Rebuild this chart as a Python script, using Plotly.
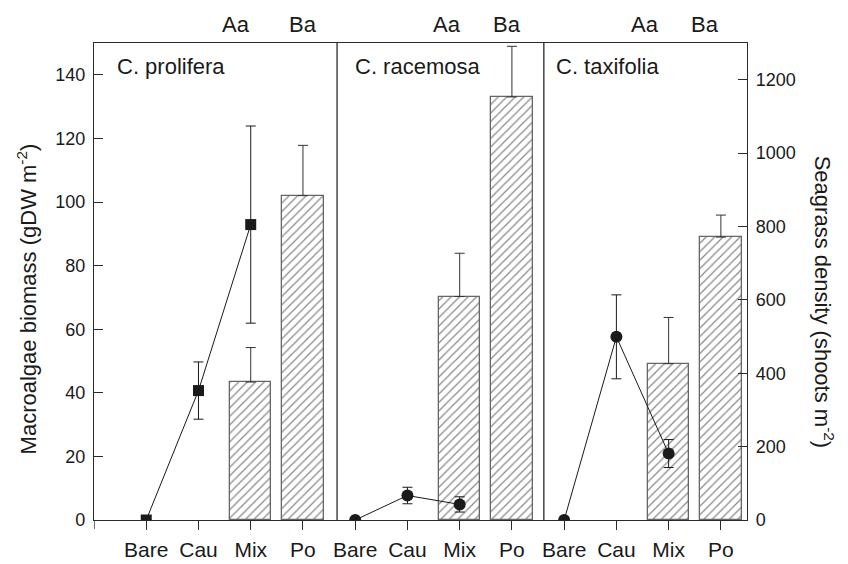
import plotly.graph_objects as go

# ---- data ----
categories = ["Bare", "Cau", "Mix", "Po"]
panels = ["C. prolifera", "C. racemosa", "C. taxifolia"]
panel_symbols = ["square", "circle", "circle"]

# Macroalgae biomass (gDW m-2) at Bare, Cau, Mix
biomass = [
    [0, 40.7, 92.9],
    [0, 7.7, 4.9],
    [0, 57.6, 20.9],
]
biomass_err = [
    [0, 9.0, 31.0],
    [0, 2.6, 2.4],
    [0, 13.2, 4.4],
]

# Seagrass density (shoots m-2) at Mix and Po
density_mix = [376, 609, 426]
density_mix_err = [94, 118, 126]
density_po = [884, 1153, 771]
density_po_err = [137, 138, 60]

letters_mix = ["Aa", "Aa", "Aa"]
letters_po = ["Ba", "Ba", "Ba"]

left_ticks = [0, 20, 40, 60, 80, 100, 120, 140]
right_ticks = [0, 200, 400, 600, 800, 1000, 1200]

# ---- styling ----
FONT = "Liberation Sans, Arial, Helvetica, sans-serif"
INK = "#1a1a1a"
FRAME = "#2a2a2a"
n_cat = len(categories)

fig = go.Figure()

# bars (seagrass density) on base axis y (right side)
bar_x, bar_y, bar_e = [], [], []
for p in range(len(panels)):
    bar_x += [p * n_cat + 2, p * n_cat + 3]
    bar_y += [density_mix[p], density_po[p]]
    bar_e += [density_mix_err[p], density_po_err[p]]

fig.add_trace(go.Bar(
    x=bar_x, y=bar_y, width=0.79,
    marker=dict(color="white", line=dict(color="#666", width=1.3),
                pattern=dict(shape="/", fgcolor="#111", bgcolor="white",
                             size=6, solidity=0.2)),
    error_y=dict(type="data", symmetric=False, array=bar_e,
                 arrayminus=[0] * len(bar_e), color="#333",
                 thickness=1, width=5),
    yaxis="y", showlegend=False, hoverinfo="skip",
))

# macroalgae biomass lines on overlay axis y2 (left side)
for p in range(len(panels)):
    xs = [p * n_cat + i for i in range(3)]
    fig.add_trace(go.Scatter(
        x=xs, y=biomass[p], mode="lines+markers",
        line=dict(color=INK, width=1),
        marker=dict(symbol=panel_symbols[p], size=12 if p else 11, color=INK),
        error_y=dict(type="data", array=biomass_err[p], color=INK,
                     thickness=1, width=5),
        yaxis="y2", showlegend=False,
    ))

tickvals = list(range(len(panels) * n_cat))
ticktext = categories * len(panels)

fig.update_layout(
    width=848, height=564,
    margin=dict(l=94, r=101, t=43, b=44),
    paper_bgcolor="white", plot_bgcolor="white",
    font=dict(family=FONT, color=INK, size=18),
    bargap=0,
    xaxis=dict(range=[-1, 11.5], tickvals=tickvals, ticktext=ticktext,
               ticks="outside", ticklen=9, tickwidth=1.3, tickcolor=FRAME,
               showline=True, linecolor=FRAME, linewidth=1.3, mirror=True,
               showgrid=False, zeroline=False, automargin=False,
               tickfont=dict(size=21), ticklabelstandoff=2),
    yaxis=dict(side="right", range=[0, 1300], tickvals=right_ticks,
               ticks="inside", ticklen=9, tickwidth=1.3, tickcolor=FRAME,
               showline=True, linecolor=FRAME, linewidth=1.3,
               showgrid=False, zeroline=False, tickfont=dict(size=18),
               automargin=False, ticklabelstandoff=4),
    yaxis2=dict(side="left", overlaying="y", range=[0, 150],
                tickvals=left_ticks,
                ticks="inside", ticklen=9, tickwidth=1.3, tickcolor=FRAME,
                showline=True, linecolor=FRAME, linewidth=1.3,
                showgrid=False, zeroline=False, tickfont=dict(size=18),
                automargin=False, ticklabelstandoff=4),
)

# left-edge bottom tick
fig.add_shape(type="line", xref="x", yref="paper", x0=-1, x1=-1,
              y0=0, y1=-0.0188, line=dict(color=FRAME, width=1.3))

# panel dividers
for xd in [3.653, 7.611]:
    fig.add_shape(type="line", xref="x", yref="paper", x0=xd, x1=xd,
                  y0=0, y1=1, line=dict(color=FRAME, width=1.3))

# panel titles
title_x = [-0.594, 3.95, 7.80]
for p, name in enumerate(panels):
    fig.add_annotation(text=name, x=title_x[p], y=0.950, xref="x", yref="paper",
                       xanchor="left", yanchor="middle", showarrow=False,
                       font=dict(size=22))

# significance letters
aa_x = [1.71, 5.75, 9.54]
ba_x = [3.0, 6.91, 10.69]
for p in range(len(panels)):
    fig.add_annotation(text=letters_mix[p], x=aa_x[p], y=1.039, xref="x", yref="paper",
                       xanchor="center", yanchor="middle", showarrow=False,
                       font=dict(size=22))
    fig.add_annotation(text=letters_po[p], x=ba_x[p], y=1.039, xref="x", yref="paper",
                       xanchor="center", yanchor="middle", showarrow=False,
                       font=dict(size=22))

# axis titles
fig.add_annotation(text="Macroalgae biomass (gDW m<sup>-2</sup>)", textangle=-90,
                   x=-0.1026, y=0.4625, xref="paper", yref="paper",
                   xanchor="center", yanchor="middle", showarrow=False,
                   font=dict(size=22))
fig.add_annotation(text="Seagrass density (shoots m<sup>-2</sup>)", textangle=90,
                   x=1.1184, y=0.457, xref="paper", yref="paper",
                   xanchor="center", yanchor="middle", showarrow=False,
                   font=dict(size=22))

fig.write_html("out.html")
